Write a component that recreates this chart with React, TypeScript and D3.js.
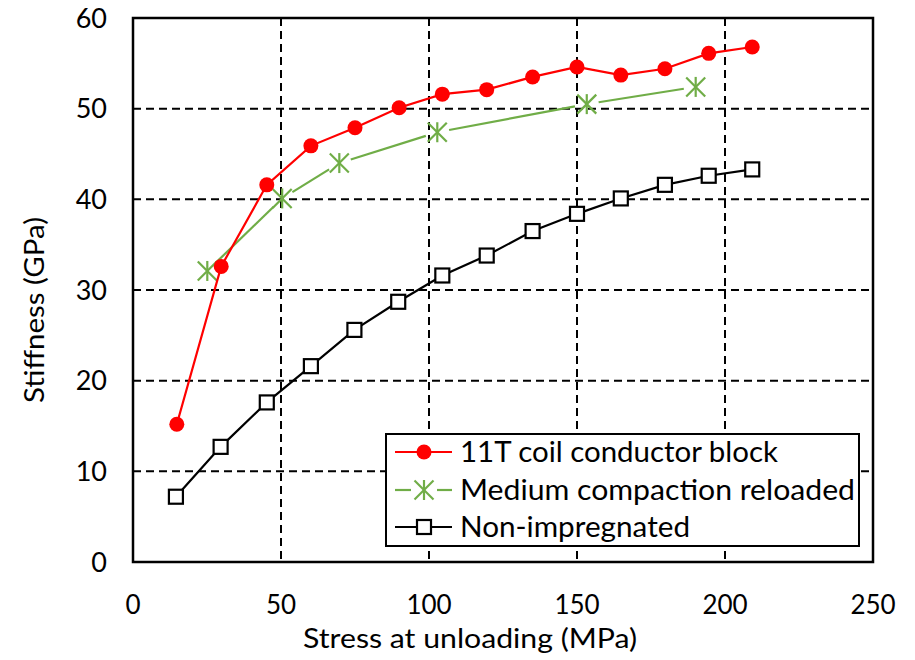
import React from "react";
import * as d3 from "d3";

const coilX = [14.8, 29.8, 45.2, 60.1, 75.0, 89.9, 104.5, 119.5, 135.0, 150.0, 164.8, 179.7, 194.5, 209.2];
const coilY = [15.2, 32.6, 41.6, 45.9, 47.9, 50.1, 51.6, 52.1, 53.5, 54.6, 53.7, 54.4, 56.1, 56.8];

const medX = [25.1, 50.4, 69.7, 102.8, 153.3, 190.1];
const medY = [32.1, 40.1, 44.0, 47.4, 50.5, 52.4];

const nonX = [14.5, 29.6, 45.2, 60.1, 74.8, 89.6, 104.5, 119.5, 135.0, 150.0, 164.8, 179.7, 194.5, 209.2];
const nonY = [7.2, 12.7, 17.6, 21.6, 25.6, 28.7, 31.6, 33.8, 36.5, 38.4, 40.1, 41.6, 42.6, 43.3];

const xTicks = [0, 50, 100, 150, 200, 250];
const yTicks = [0, 10, 20, 30, 40, 50, 60];

const seriesNames = ["11T coil conductor block", "Medium compaction reloaded", "Non-impregnated"];
const xTitle = "Stress at unloading (MPa)";
const yTitle = "Stiffness (GPa)";

const RED = "#ff0000";
const GREEN = "#70ad47";
const BLACK = "#000000";
const FONT = "Lato, 'Open Sans', sans-serif";

const L = 133, R = 873, T = 18, B = 562;

function Star({ cx, cy, r, color }: { cx: number; cy: number; r: number; color: string }) {
  const d = r * 0.95;
  return (
    <g stroke={color} strokeWidth={2.2}>
      <line x1={cx - d} y1={cy - d} x2={cx + d} y2={cy + d} />
      <line x1={cx - d} y1={cy + d} x2={cx + d} y2={cy - d} />
      <line x1={cx} y1={cy - r} x2={cx} y2={cy + r} />
    </g>
  );
}

export default function App() {
  const x = d3.scaleLinear().domain([0, 250]).range([L, R]);
  const y = d3.scaleLinear().domain([0, 60]).range([B, T]);

  const coil = coilX.map((v, i) => [x(v), y(coilY[i])] as [number, number]);
  const med = medX.map((v, i) => [x(v), y(medY[i])] as [number, number]);
  const non = nonX.map((v, i) => [x(v), y(nonY[i])] as [number, number]);
  const line = d3.line();

  const gap = 12;
  const medSegs = med.slice(1).map((p, i) => {
    const a = med[i];
    const dx = p[0] - a[0], dy = p[1] - a[1];
    const len = Math.hypot(dx, dy);
    const ux = dx / len, uy = dy / len;
    return [a[0] + ux * gap, a[1] + uy * gap, p[0] - ux * gap, p[1] - uy * gap];
  });

  const legX = 386, legY = 434, legW = 473, legH = 112;
  const rows = [452, 490, 527];
  const legLens = [318, 395, 230];

  return (
    <svg width={915} height={660} style={{ position: "absolute", left: 0, top: 0 }}>
      <rect x={0} y={0} width={915} height={660} fill="#fff" />
      {/* grid */}
      {xTicks.filter(t => t > 0 && t < 250).map(t => (
        <line key={"gx" + t} x1={x(t)} x2={x(t)} y1={T} y2={B} stroke="#000" strokeWidth={2} strokeDasharray="8,5" />
      ))}
      {yTicks.filter(t => t > 0 && t < 60).map(t => (
        <line key={"gy" + t} x1={L} x2={R} y1={y(t)} y2={y(t)} stroke="#000" strokeWidth={2} strokeDasharray="8,5" />
      ))}
      <rect x={L} y={T} width={R - L} height={B - T} fill="none" stroke="#000" strokeWidth={2.5} />

      {/* tick labels */}
      {xTicks.map(t => (
        <text key={"tx" + t} x={x(t)} y={614} textAnchor="middle" fontFamily={FONT} fontSize={26} fill="#000">{t}</text>
      ))}
      {yTicks.map(t => (
        <text key={"ty" + t} x={107} y={y(t) + 9.5} textAnchor="end" fontFamily={FONT} fontSize={27} fill="#000">{t}</text>
      ))}
      <text x={470} y={648} textAnchor="middle" fontFamily={FONT} fontSize={27} textLength={334} lengthAdjust="spacingAndGlyphs" fill="#000">{xTitle}</text>
      <text transform={`translate(44,310) rotate(-90)`} textAnchor="middle" fontFamily={FONT} fontSize={27} textLength={186} lengthAdjust="spacingAndGlyphs" fill="#000">{yTitle}</text>

      {/* series */}
      <path d={line(non) || ""} fill="none" stroke={BLACK} strokeWidth={2.2} />
      {non.map((p, i) => (
        <rect key={"n" + i} x={p[0] - 7} y={p[1] - 7} width={14} height={14} fill="#fff" stroke={BLACK} strokeWidth={2.2} />
      ))}
      {medSegs.map((s, i) => (
        <line key={"ms" + i} x1={s[0]} y1={s[1]} x2={s[2]} y2={s[3]} stroke={GREEN} strokeWidth={2.2} />
      ))}
      {med.map((p, i) => <Star key={"m" + i} cx={p[0]} cy={p[1]} r={10} color={GREEN} />)}
      <path d={line(coil) || ""} fill="none" stroke={RED} strokeWidth={2.2} />
      {coil.map((p, i) => <circle key={"c" + i} cx={p[0]} cy={p[1]} r={7.5} fill={RED} />)}

      {/* legend */}
      <rect x={legX} y={legY} width={legW} height={legH} fill="#fff" stroke="#000" strokeWidth={2} />
      <line x1={395} x2={452} y1={rows[0]} y2={rows[0]} stroke={RED} strokeWidth={2.2} />
      <circle cx={424} cy={rows[0]} r={7.5} fill={RED} />
      <line x1={395} x2={411} y1={rows[1]} y2={rows[1]} stroke={GREEN} strokeWidth={2.2} />
      <line x1={437} x2={452} y1={rows[1]} y2={rows[1]} stroke={GREEN} strokeWidth={2.2} />
      <Star cx={424} cy={rows[1]} r={10} color={GREEN} />
      <line x1={395} x2={452} y1={rows[2]} y2={rows[2]} stroke={BLACK} strokeWidth={2.2} />
      <rect x={417} y={rows[2] - 7} width={14} height={14} fill="#fff" stroke={BLACK} strokeWidth={2.2} />
      {seriesNames.map((s, i) => (
        <text key={"l" + i} x={460} y={rows[i] + 10} fontFamily={FONT} fontSize={28} textLength={legLens[i]} lengthAdjust="spacingAndGlyphs" fill="#000">{s}</text>
      ))}
    </svg>
  );
}
